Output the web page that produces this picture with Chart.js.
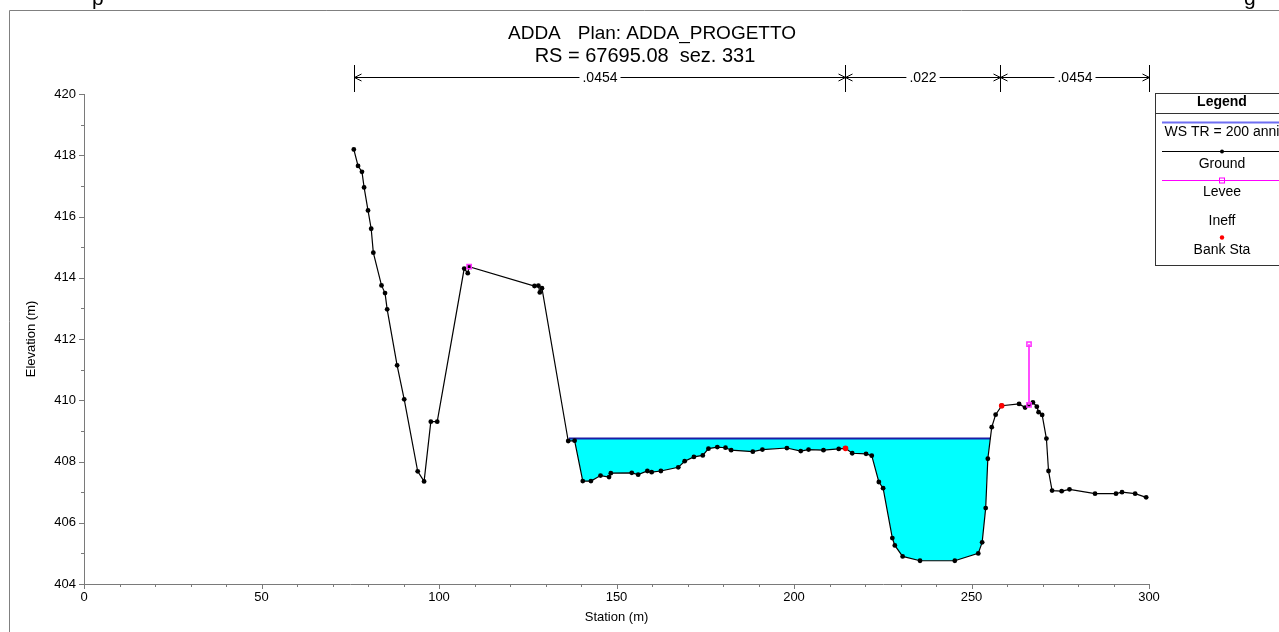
<!DOCTYPE html>
<html>
<head>
<meta charset="utf-8">
<title>ADDA - RS 67695.08 sez. 331</title>
<script src="https://cdn.jsdelivr.net/npm/chart.js@4.4.0/dist/chart.umd.min.js"></script>
<style>
  html, body { margin: 0; padding: 0; background: #fff; }
  canvas { display: block; }
</style>
</head>
<body>
<canvas id="xsChart" width="1279" height="632"></canvas>
<script>
// ground profile: station (m) and elevation (m)
const groundStation = [76.0, 77.2, 78.3, 78.9, 80.0, 80.9, 81.5, 83.8, 84.8, 85.4, 88.2, 90.2, 94.0, 95.8, 97.7, 99.5,
  107.1, 108.1, 108.5, 126.9, 128.0, 128.4, 129.0, 136.4, 138.2, 140.5, 142.8, 145.5, 147.9, 148.4, 154.3, 156.1,
  158.7, 159.9, 162.5, 167.4, 169.2, 171.8, 174.3, 175.9, 178.4, 180.7, 182.3, 188.4, 191.1, 198.0, 201.9, 204.1,
  208.3, 212.6, 214.5, 216.4, 220.3, 221.9, 223.9, 225.1, 227.7, 228.4, 230.6, 235.5, 245.3, 251.9, 253.0, 254.0,
  254.6, 255.7, 256.8, 258.5, 263.4, 265.1, 266.2, 267.3, 268.4, 268.9, 269.9, 271.1, 271.7, 272.7, 275.4, 277.6,
  284.8, 290.7, 292.4, 296.1, 299.2];
const groundElev = [418.19, 417.65, 417.46, 416.95, 416.20, 415.60, 414.82, 413.75, 413.50, 412.97, 411.14, 410.03, 407.68, 407.35, 409.30, 409.30,
  414.30, 414.15, 414.36, 413.73, 413.74, 413.52, 413.66, 408.67, 408.68, 407.36, 407.36, 407.54, 407.49, 407.62, 407.63, 407.57,
  407.69, 407.65, 407.69, 407.81, 408.01, 408.15, 408.20, 408.42, 408.47, 408.45, 408.37, 408.32, 408.39, 408.44, 408.34, 408.39,
  408.37, 408.41, 408.43, 408.27, 408.25, 408.19, 407.33, 407.13, 405.50, 405.26, 404.90, 404.76, 404.76, 405.00, 405.36, 406.48,
  408.09, 409.12, 409.53, 409.82, 409.88, 409.76, 409.85, 409.93, 409.79, 409.61, 409.52, 408.75, 407.69, 407.05, 407.03, 407.09,
  406.95, 406.95, 407.00, 406.95, 406.83];

// water surface TR = 200 anni
const wsStation = [136.6, 255.3];
const wsElev = [408.75, 408.75];

// ineffective flow limit
const ineffStation = [208.5, 208.5];
const ineffElev = [408.75, 408.37];

// levees (left: point only, right: vertical)
const leveeStation = [108.5, 266.2, 266.2];
const leveeElev = [414.36, 409.85, 411.83];

// bank stations
const bankStation = [214.5, 258.5];
const bankElev = [408.43, 409.82];

// Manning n values between breaks
const nStation = [76.0, 214.5, 258.0, 300.0];
const nValue = ['.0454', '.022', '.0454'];

const xTicks = [0, 50, 100, 150, 200, 250, 300];
const yTicks = [404, 406, 408, 410, 412, 414, 416, 418, 420];

const FONT = '"Liberation Sans", Arial, sans-serif';
const AXIS_GREY = '#7a7a7a';

function pts(xs, ys) {
  return xs.map((x, i) => ({ x: x, y: ys[i] }));
}

const decor = {
  id: 'decor',
  beforeDraw(chart) {
    const c = chart.ctx;
    c.save();
    c.fillStyle = '#fff';
    c.fillRect(0, 0, chart.width, chart.height);
    // outer frame
    c.strokeStyle = '#808080';
    c.lineWidth = 1;
    c.beginPath();
    c.moveTo(9.5, chart.height);
    c.lineTo(9.5, 10.5);
    c.lineTo(chart.width, 10.5);
    c.stroke();
    // cut caption above the frame
    c.fillStyle = '#000';
    c.font = '21px ' + FONT;
    c.textBaseline = 'alphabetic';
    c.fillText('p', 92, 5);
    c.fillText('g', 1244, 5);
    c.restore();
  },
  afterDraw(chart) {
    const c = chart.ctx;
    const xs = chart.scales.x;
    const ys = chart.scales.y;
    const area = chart.chartArea;
    c.save();

    // titles
    c.fillStyle = '#000';
    c.textBaseline = 'middle';
    c.font = '19px ' + FONT;
    c.textAlign = 'left';
    c.fillText('ADDA', 508, 34);
    c.textAlign = 'right';
    c.fillText('Plan: ADDA_PROGETTO', 796, 34);
    c.textAlign = 'center';
    c.font = '20px ' + FONT;
    c.fillText('RS = 67695.08  sez. 331', 645, 56);

    // n values bar
    const yBar = 77.5;
    c.strokeStyle = '#000';
    c.lineWidth = 1;
    c.font = '14px ' + FONT;
    const px = nStation.map(s => Math.round(xs.getPixelForValue(s)) + 0.5);
    px.forEach(p => {
      c.beginPath(); c.moveTo(p, 65); c.lineTo(p, 92); c.stroke();
    });
    for (let i = 0; i < nValue.length; i++) {
      const x0 = px[i], x1 = px[i + 1], mid = (x0 + x1) / 2;
      const w = c.measureText(nValue[i]).width;
      c.beginPath();
      c.moveTo(x0, yBar); c.lineTo(mid - w / 2 - 3, yBar);
      c.moveTo(mid + w / 2 + 3, yBar); c.lineTo(x1, yBar);
      // arrow heads
      c.moveTo(x0 + 7, yBar - 3.5); c.lineTo(x0, yBar); c.lineTo(x0 + 7, yBar + 3.5);
      c.moveTo(x1 - 7, yBar - 3.5); c.lineTo(x1, yBar); c.lineTo(x1 - 7, yBar + 3.5);
      c.stroke();
      c.fillText(nValue[i], mid, yBar + 1);
    }

    // tick marks
    c.strokeStyle = AXIS_GREY;
    xs.ticks.forEach(t => {
      const p = Math.round(xs.getPixelForValue(t.value)) + 0.5;
      const len = t.value % 50 === 0 ? 5 : 3;
      c.beginPath(); c.moveTo(p, area.bottom); c.lineTo(p, area.bottom + len); c.stroke();
    });
    ys.ticks.forEach(t => {
      const p = Math.round(ys.getPixelForValue(t.value)) + 0.5;
      const len = t.value % 2 === 0 ? 5 : 3;
      c.beginPath(); c.moveTo(area.left, p); c.lineTo(area.left - len, p); c.stroke();
    });

    // axis titles
    c.fillStyle = '#000';
    c.font = '13px ' + FONT;
    c.textAlign = 'center';
    c.fillText('Station (m)', (area.left + area.right) / 2, 617);
    c.save();
    c.translate(31, (area.top + area.bottom) / 2);
    c.rotate(-Math.PI / 2);
    c.fillText('Elevation (m)', 0, 0);
    c.restore();

    // legend box
    const lx = 1155.5, ly = 93.5, lcx = 1222;
    c.fillStyle = '#fff';
    c.fillRect(lx, ly, 140, 172);
    c.strokeStyle = '#333';
    c.strokeRect(lx, ly, 140, 172);
    c.beginPath(); c.moveTo(lx, 113.5); c.lineTo(chart.width, 113.5); c.stroke();
    c.fillStyle = '#000';
    c.font = 'bold 14px ' + FONT;
    c.fillText('Legend', lcx, 102);
    c.font = '14px ' + FONT;
    // WS
    c.strokeStyle = '#6f6ff2'; c.lineWidth = 2;
    c.beginPath(); c.moveTo(1162, 122.5); c.lineTo(chart.width, 122.5); c.stroke();
    c.fillText('WS TR = 200 anni', lcx, 132);
    // Ground
    c.strokeStyle = '#000'; c.lineWidth = 1;
    c.beginPath(); c.moveTo(1162, 151.5); c.lineTo(chart.width, 151.5); c.stroke();
    c.beginPath(); c.arc(lcx, 151.5, 2, 0, Math.PI * 2); c.fill();
    c.fillText('Ground', lcx, 164);
    // Levee
    c.strokeStyle = '#ff00ff';
    c.beginPath(); c.moveTo(1162, 180.5); c.lineTo(chart.width, 180.5); c.stroke();
    c.strokeRect(lcx - 2.5, 178, 5, 5);
    c.fillText('Levee', lcx, 192.5);
    // Ineff
    c.fillText('Ineff', lcx, 221.5);
    // Bank Sta
    c.fillStyle = '#ff0000';
    c.beginPath(); c.arc(lcx, 237.5, 2.2, 0, Math.PI * 2); c.fill();
    c.fillStyle = '#000';
    c.fillText('Bank Sta', lcx, 250);

    c.restore();
  }
};

const ctx = document.getElementById('xsChart').getContext('2d');
const xsChart = new Chart(ctx, {
  type: 'line',
  data: {
    datasets: [
      {
        label: 'Bank Sta',
        data: pts(bankStation, bankElev),
        showLine: false,
        pointRadius: 2.8,
        pointBackgroundColor: '#ff0000',
        pointBorderColor: '#ff0000',
        pointBorderWidth: 0,
      },
      {
        label: 'Levee',
        data: pts(leveeStation, leveeElev),
        borderColor: '#ff4dff',
        borderWidth: 2,
        segment: {
          borderColor: s => (s.p0DataIndex === 0 ? 'rgba(0,0,0,0)' : '#ff4dff'),
        },
        pointStyle: 'rect',
        pointRadius: 3,
        pointBorderColor: '#ff33ff',
        pointBorderWidth: 1.5,
        pointBackgroundColor: 'rgba(0,0,0,0)',
        fill: false,
      },
      {
        label: 'Ground',
        data: pts(groundStation, groundElev),
        borderColor: '#000',
        borderWidth: 1.2,
        pointRadius: 2.4,
        pointBackgroundColor: '#000',
        pointBorderWidth: 0,
        fill: false,
      },
      {
        label: 'WS TR = 200 anni',
        data: pts(wsStation, wsElev),
        borderColor: '#1c1ca6',
        borderWidth: 2,
        pointRadius: 0,
        fill: { target: 2, above: '#00ffff', below: 'rgba(0,0,0,0)' },
      },
      {
        label: 'Ineff',
        data: pts(ineffStation, ineffElev),
        borderColor: '#236b6b',
        borderWidth: 1,
        pointRadius: 0,
        fill: false,
      },
    ],
  },
  options: {
    responsive: false,
    animation: false,
    devicePixelRatio: 1,
    layout: { padding: { top: 94, right: 130, left: 0, bottom: 0 } },
    plugins: {
      legend: { display: false },
      tooltip: { enabled: false },
      title: { display: false },
    },
    elements: { line: { tension: 0 } },
    scales: {
      x: {
        type: 'linear',
        min: 0,
        max: 300,
        afterFit: s => { s.height = 48; },
        grid: { display: false, drawTicks: false },
        border: { display: true, color: AXIS_GREY, width: 1 },
        ticks: {
          stepSize: 10,
          autoSkip: false,
          maxRotation: 0,
          padding: 6,
          color: '#000',
          font: { family: FONT, size: 13 },
          callback: v => (xTicks.includes(v) ? String(v) : ''),
        },
      },
      y: {
        type: 'linear',
        min: 404,
        max: 420,
        afterFit: s => { s.width = 84; },
        grid: { display: false, drawTicks: false },
        border: { display: true, color: AXIS_GREY, width: 1 },
        ticks: {
          stepSize: 1,
          autoSkip: false,
          padding: 8,
          color: '#000',
          font: { family: FONT, size: 13 },
          callback: v => (yTicks.includes(v) ? String(v) : ''),
        },
      },
    },
  },
  plugins: [decor],
});
</script>
</body>
</html>
